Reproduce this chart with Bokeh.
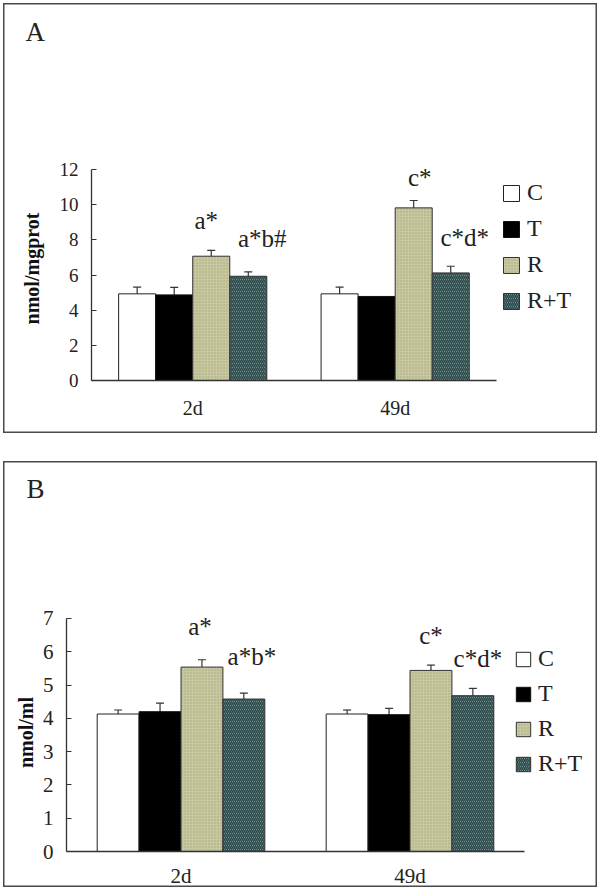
from bokeh.plotting import figure
from bokeh.models import (ColumnDataSource, Whisker, TeeHead, Range1d, FixedTicker,
                          Legend, LegendItem, Title, Spacer, LabelSet)
from bokeh.embed import file_html
from bokeh.resources import INLINE

# ---------------- data ----------------
groups = ["2d", "49d"]
series = ["C", "T", "R", "R+T"]

a_means = {"C": [4.93, 4.93], "T": [4.87, 4.78], "R": [7.07, 9.82], "R+T": [5.93, 6.12]}
a_errs = {"C": [0.38, 0.38], "T": [0.43, 0.0], "R": [0.33, 0.42], "R+T": [0.25, 0.38]}
a_yticks = [0, 2, 4, 6, 8, 10, 12]
a_notes = [("R", 0, "a*"), ("R+T", 0, "a*b#"), ("R", 1, "c*"), ("R+T", 1, "c*d*")]

b_means = {"C": [4.13, 4.13], "T": [4.20, 4.11], "R": [5.54, 5.44], "R+T": [4.58, 4.68]}
b_errs = {"C": [0.12, 0.12], "T": [0.26, 0.19], "R": [0.22, 0.16], "R+T": [0.18, 0.22]}
b_yticks = [0, 1, 2, 3, 4, 5, 6, 7]
b_notes = [("R", 0, "a*"), ("R+T", 0, "a*b*"), ("R", 1, "c*"), ("R+T", 1, "c*d*")]

# ---------------- styles ----------------
FONT = "Liberation Serif"
styles = {
    "C": dict(fill_color="white", line_color="#222222"),
    "T": dict(fill_color="black", line_color="#111111"),
    "R": dict(fill_color="#c8c8a0", line_color="#333333", hatch_pattern="dot",
              hatch_color="#a4a47e", hatch_scale=3, hatch_weight=1),
    "R+T": dict(fill_color="#9ebcbc", line_color="#333333", hatch_pattern="left_diagonal_line",
                hatch_color="#2c4848", hatch_scale=4, hatch_weight=1.6),
}
BAR_W = 0.183
BOX_CSS = {"box-shadow": "inset 0 0 0 3px white, inset 0 0 0 4.5px #4a4a4a"}
NBSP = "\u00a0"


def panel(means, errs, yticks, notes, letter, ylabel, *, width, height, left, top, bottom,
          px_x, px_y, tick_fs, lab_fs, cat_fs, cat_standoff, ylab_standoff, ylab_pad,
          note_dy, note_dx, leg_loc, leg_spacing, leg_glyph, letter_offset):
    right = 6
    frame_w = width - left - right
    frame_h = height - top - bottom
    p = figure(width=width, height=height, output_backend="svg", toolbar_location=None,
               min_border_left=left, min_border_right=right, min_border_top=top,
               min_border_bottom=bottom, x_range=Range1d(0, frame_w / px_x),
               y_range=Range1d(0, frame_h / px_y), outline_line_color=None,
               border_fill_alpha=0, background_fill_alpha=0, styles=BOX_CSS)
    p.grid.visible = False

    items = []
    for si, s in enumerate(series):
        xs = [gi + 0.5 + (si - 1.5) * BAR_W for gi in range(len(groups))]
        src = ColumnDataSource(dict(x=xs, top=means[s]))
        r = p.vbar(x="x", top="top", width=BAR_W, bottom=0, source=src, line_width=1, **styles[s])
        items.append(LegendItem(label=s, renderers=[r]))
        ex = [x for x, e in zip(xs, errs[s]) if e > 0]
        em = [m for m, e in zip(means[s], errs[s]) if e > 0]
        ee = [e for e in errs[s] if e > 0]
        if ex:
            wsrc = ColumnDataSource(dict(x=ex, upper=[m + e for m, e in zip(em, ee)],
                                         lower=[m - e for m, e in zip(em, ee)]))
            w = Whisker(base="x", upper="upper", lower="lower", source=wsrc,
                        line_color="#333333", line_width=1.2,
                        upper_head=TeeHead(size=8, line_color="#333333", line_width=1.2),
                        lower_head=TeeHead(size=8, line_color="#333333", line_width=1.2))
            p.add_layout(w)

    # significance notes
    nx, ny, nt, dy, dx = [], [], [], [], []
    for k, (s, gi, txt) in enumerate(notes):
        si = series.index(s)
        nx.append(gi + 0.5 + (si - 1.5) * BAR_W)
        ny.append(means[s][gi] + errs[s][gi])
        nt.append(txt)
        dy.append(note_dy[k])
        dx.append(note_dx[k])
    nsrc = ColumnDataSource(dict(x=nx, y=ny, t=nt, dy=dy, dx=dx))
    p.add_layout(LabelSet(x="x", y="y", text="t", source=nsrc, x_offset="dx", y_offset="dy",
                          text_font=FONT, text_font_size="25px", text_align="center",
                          text_baseline="middle", text_color="#222222"))

    # axes
    ya = p.yaxis[0]
    ya.bounds = (yticks[0], yticks[-1])
    ya.ticker = FixedTicker(ticks=yticks)
    ya.major_tick_in = 5
    ya.major_tick_out = 0
    ya.minor_tick_in = 0
    ya.minor_tick_out = 0
    ya.major_label_standoff = 13
    ya.major_label_text_font = FONT
    ya.major_label_text_font_size = tick_fs
    ya.major_label_text_color = "#222222"
    # trailing no-break spaces move the centred label down to the middle of the 0..max axis
    ya.axis_label = ylabel + NBSP * ylab_pad
    ya.axis_label_text_font = FONT
    ya.axis_label_text_font_style = "bold"
    ya.axis_label_text_font_size = lab_fs
    ya.axis_label_text_color = "#111111"
    ya.axis_label_standoff = ylab_standoff
    ya.axis_line_color = "#333333"
    ya.axis_line_width = 1.3
    ya.major_tick_line_color = "#333333"

    xa = p.xaxis[0]
    xa.bounds = (0, len(groups))
    xa.ticker = FixedTicker(ticks=[gi + 0.5 for gi in range(len(groups))])
    xa.major_label_overrides = {gi + 0.5: g for gi, g in enumerate(groups)}
    xa.major_tick_in = 0
    xa.major_tick_out = 0
    xa.minor_tick_in = 0
    xa.minor_tick_out = 0
    xa.major_label_standoff = cat_standoff
    xa.major_label_text_font = FONT
    xa.major_label_text_font_size = cat_fs
    xa.major_label_text_color = "#222222"
    xa.axis_line_color = "#333333"
    xa.axis_line_width = 1.3

    leg = Legend(items=items, location=leg_loc, orientation="vertical",
                 glyph_width=leg_glyph, glyph_height=leg_glyph, label_standoff=6,
                 label_text_font=FONT, label_text_font_size="24px", label_text_color="#222222",
                 spacing=leg_spacing, padding=0, margin=0, border_line_color=None,
                 background_fill_alpha=0, label_height=leg_glyph)
    p.add_layout(leg)

    p.add_layout(Title(text=letter, align="left", offset=letter_offset, standoff=0,
                       text_font=FONT, text_font_size="27px", text_font_style="normal",
                       text_color="#222222"), "above")
    return p


pA = panel(a_means, a_errs, a_yticks, a_notes, "A", "nmol/mgprot",
           width=600, height=436, left=91, top=46, bottom=56, px_x=202.45, px_y=17.58,
           tick_fs="19px", lab_fs="20px", cat_fs="20px", cat_standoff=16, ylab_standoff=14,
           ylab_pad=22, note_dy=[30, 33, 23, 29], note_dx=[-5, 14, 6, 14],
           leg_loc=(410, 66), leg_spacing=9, leg_glyph=20, letter_offset=-66)

pB = panel(b_means, b_errs, b_yticks, b_notes, "B", "nmol/ml",
           width=600, height=432, left=66, top=45, bottom=37, px_x=229.0, px_y=33.48,
           tick_fs="21px", lab_fs="20px", cat_fs="21px", cat_standoff=12, ylab_standoff=3,
           ylab_pad=22, note_dy=[33, 37, 30, 30], note_dx=[-2, 8, 0, 5],
           leg_loc=(448, 74), leg_spacing=8, leg_glyph=18, letter_offset=-40)

gap = Spacer(width=600, height=22)

# separate roots so the two panels keep their own frame positions
open("out.html", "w").write(file_html([pA, gap, pB], INLINE))
